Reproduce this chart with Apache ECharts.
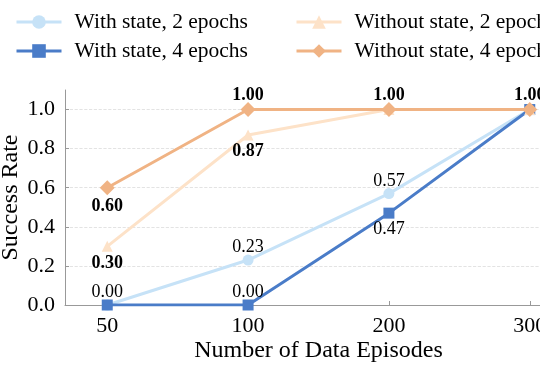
<!DOCTYPE html>
<html><head><meta charset="utf-8">
<script src="https://cdn.jsdelivr.net/npm/echarts@6/dist/echarts.min.js"></script>
<style>html,body{margin:0;padding:0;background:#fff}#c{width:540px;height:372px}</style>
</head><body><div id="c"></div>
<script>
const categories = ['50', '100', '200', '300'];
const withState2 = [0.00, 0.23, 0.57, 1.00];
const withState4 = [0.00, 0.00, 0.47, 1.00];
const withoutState2 = [0.30, 0.87, 1.00, 1.00];
const withoutState4 = [0.60, 1.00, 1.00, 1.00];
const yTicks = [0, 0.2, 0.4, 0.6, 0.8, 1.0];
const names = ['With state, 2 epochs', 'With state, 4 epochs', 'Without state, 2 epochs', 'Without state, 4 epochs'];

const FONT = 'Liberation Serif';
// label placement per series: array of 'top'|'bottom'|null per point
const labelPlan = [
  ['top', 'top', 'top', null],
  [null, 'top', 'bottom', null],
  ['bottom', 'bottom', null, null],
  ['bottom', 'top', 'top', 'top']
];
const bold = [false, false, true, true];
const colors = ['#c6e2f7', '#4a7cc8', '#fde2c8', '#f0b384'];
const symbols = ['circle', 'rect', 'triangle', 'diamond'];
const symSizes = [11, 11, 11, 15];
const allVals = [withState2, withState4, withoutState2, withoutState4];

function buildData(vals, si) {
  return vals.map((v, i) => {
    const pos = labelPlan[si][i];
    return {
      value: [i, v],
      label: pos ? { show: true, position: pos, distance: pos === 'top' ? -2 : 2 } : { show: false }
    };
  });
}

const series = allVals.map((vals, si) => ({
  name: names[si],
  type: 'line',
  data: buildData(vals, si),
  symbol: symbols[si],
  symbolSize: symSizes[si],
  lineStyle: { color: colors[si], width: 3 },
  itemStyle: { color: colors[si] },
  label: {
    formatter: p => p.value[1].toFixed(2),
    fontFamily: FONT,
    fontSize: 18,
    fontWeight: bold[si] ? 'bold' : 'normal',
    color: '#000'
  },
  emphasis: { disabled: true },
  animation: false,
  z: 2 + si
}));

const legendCommon = {
  orient: 'vertical',
  top: 6,
  itemWidth: 45,
  itemHeight: 17,
  itemGap: 7,
  lineStyle: { width: 3 },
  textStyle: { fontFamily: FONT, fontSize: 21.5, color: '#000', padding: [0, 0, 0, 8] }
};

const chart = echarts.init(document.getElementById('c'), null, { renderer: 'canvas' });
chart.setOption({
  backgroundColor: '#fff',
  animation: false,
  legend: [
    Object.assign({ left: 10, data: [names[0], names[1]] }, legendCommon),
    Object.assign({ left: 290, data: [names[2], names[3]] }, legendCommon)
  ],
  grid: { left: 65, top: 90, bottom: 67, width: 507, containLabel: false, outerBoundsMode: 'none' },
  xAxis: {
    type: 'value',
    min: -0.3,
    max: 3.3,
    name: 'Number of Data Episodes',
    nameLocation: 'middle',
    nameGap: 34,
    nameMoveOverlap: false,
    nameTextStyle: { fontFamily: FONT, fontSize: 24, color: '#000' },
    axisLine: { show: true, onZero: false, lineStyle: { color: '#999', width: 1 } },
    axisTick: { show: true, inside: true, length: 4, customValues: [0, 1, 2, 3], lineStyle: { color: '#999' } },
    axisLabel: {
      customValues: [0, 1, 2, 3],
      formatter: v => categories[Math.round(v)],
      fontFamily: FONT, fontSize: 22, color: '#000', margin: 10
    },
    splitLine: { show: false }
  },
  yAxis: {
    type: 'value',
    min: 0,
    max: 1.1,
    name: 'Success Rate',
    nameLocation: 'middle',
    nameGap: 54,
    nameRotate: 90,
    nameMoveOverlap: false,
    nameTextStyle: { fontFamily: FONT, fontSize: 24, color: '#000', verticalAlign: 'middle', align: 'center' },
    axisLine: { show: true, onZero: false, lineStyle: { color: '#999', width: 1 } },
    axisTick: { show: true, inside: true, length: 4, customValues: yTicks, lineStyle: { color: '#999' } },
    axisLabel: {
      customValues: yTicks,
      formatter: v => v.toFixed(1),
      fontFamily: FONT, fontSize: 22, color: '#000', margin: 10
    },
    splitLine: { show: true, lineStyle: { color: '#dcdcdc', type: 'dashed', width: 0.8 } }
  },
  series: series
});
</script>
</body></html>
